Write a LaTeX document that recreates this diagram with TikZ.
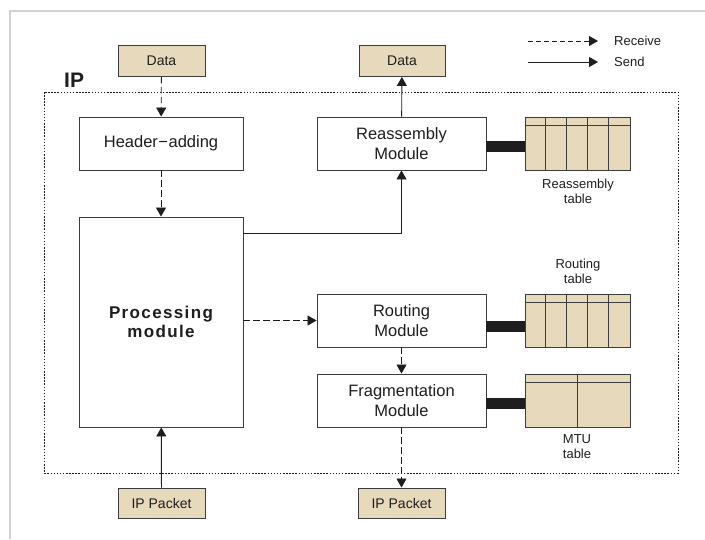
\documentclass[tikz,border=0pt]{standalone}
\usepackage{fontspec}
\setmainfont{Liberation Sans}
\newfontfamily\procfont[LetterSpace=8]{Liberation Sans}
\usetikzlibrary{arrows.meta}
\definecolor{beige}{RGB}{231,217,188}
\definecolor{edge}{RGB}{60,60,60}
\definecolor{ink}{RGB}{30,30,30}
\tikzset{
  iobox/.style={draw=edge, line width=0.9pt, fill=beige, minimum width=87pt, minimum height=31pt, inner sep=0pt, font=\fontsize{14}{16}\selectfont, text=ink},
  modbox/.style={draw=edge, line width=0.9pt, fill=white, minimum width=169pt, minimum height=53pt, inner sep=0pt, align=center, font=\fontsize{16.5}{20}\selectfont, text=ink},
  tabbox/.style={draw=edge, line width=0.9pt, fill=beige, minimum width=105pt, minimum height=53pt, inner sep=0pt},
  tabline/.style={draw=edge, line width=0.9pt},
  lbl/.style={align=center, font=\fontsize{13}{15}\selectfont, text=ink, inner sep=0pt},
  tip/.style={-{Triangle[length=9pt,width=10pt]}},
  recv/.style={tip, draw=ink, line width=0.8pt, dash pattern=on 6.5pt off 3.5pt},
  sendl/.style={tip, draw=ink, line width=0.9pt},
  bar/.style={draw=ink, line width=11pt},
}
\begin{document}
\begin{tikzpicture}[x=1pt,y=-1pt]
\useasboundingbox (0,0) rectangle (705,539);
% outer grey frame
\draw[line width=2.5pt, draw=black!18] (10,539) -- (10,11) -- (705,11);
% IP dotted box
\draw[draw=ink, line width=0.8pt, dash pattern=on 1.5pt off 1.6pt] (44,92) rectangle (678,473);
\node[anchor=base west, inner sep=0pt, font=\fontsize{21}{21}\selectfont\bfseries, text=ink] (iplbl) at (64,87) {IP};
% io boxes
\node[iobox] (data1) at (161.5,61) {Data};
\node[iobox, minimum width=86pt] (data2) at (402,61) {Data};
\node[iobox, minimum height=30pt] (ipp1) at (161.5,503) {IP Packet};
\node[iobox, minimum height=30pt] (ipp2) at (401.5,503) {IP Packet};
% modules
\node[modbox, minimum width=164pt] (head) at (161,143.5) {Header{\raisebox{0.5pt}{\kern0.5pt−\kern0.5pt}}adding};
\node[modbox, minimum width=164pt, minimum height=210pt] (proc) at (161,322) {\procfont\bfseries\fontsize{17}{20}\selectfont Processing\\[-1pt]\procfont\bfseries\fontsize{17}{20}\selectfont module};
\node[modbox] (reas) at (401.5,143.5) {Reassembly\\Module};
\node[modbox] (rout) at (401.5,320.5) {Routing\\Module};
\node[modbox] (frag) at (401.5,400.5) {Fragmentation\\Module};
% tables
\node[tabbox] (rtab) at (577.5,143.5) {};
\node[tabbox] (ttab) at (577.5,320.5) {};
\node[tabbox] (mtab) at (577.5,400.5) {};
\foreach \t in {rtab,ttab}{
  \draw[tabline] ([yshift=-9pt]\t.north west) -- ([yshift=-9pt]\t.north east);
  \foreach \k in {1,2,3,4}{
    \draw[tabline] ([xshift=\k*21pt]\t.north west) -- ([xshift=\k*21pt]\t.south west);
  }
}
\draw[tabline] ([yshift=-9pt]mtab.north west) -- ([yshift=-9pt]mtab.north east);
\draw[tabline] (mtab.north) -- (mtab.south);
% table labels
\node[lbl] (rlab) at (578,191) {Reassembly\\table};
\node[lbl] (tlab) at (578,271) {Routing\\table};
\node[lbl] (mlab) at (577,447) {MTU\\table};
% thick links
\draw[bar] ([yshift=-3pt]reas.east) -- ([yshift=-3pt]rtab.west);
\draw[bar] ([yshift=-5.5pt]rout.east) -- ([yshift=-5.5pt]ttab.west);
\draw[bar] ([yshift=-3pt]frag.east) -- ([yshift=-3pt]mtab.west);
% connectors
\draw[recv] (data1) -- (head);
\draw[recv] (head) -- (proc);
\draw[sendl] ([yshift=-17pt]proc.north east) -| (reas.south);
\draw[sendl] (reas) -- (data2);
\draw[recv] (proc.east |- rout) -- (rout.west);
\draw[recv] (rout) -- (frag);
\draw[recv] (frag) -- (ipp2);
\draw[sendl] (ipp1) -- (proc);
% legend
\coordinate (lra) at (528,41);
\coordinate (lrb) at (598,41);
\coordinate (lsa) at (528,62);
\coordinate (lsb) at (598,62);
\draw[recv, dash pattern=on 5pt off 3pt] (lra) -- (lrb);
\draw[sendl] (lsa) -- (lsb);
\node[lbl, anchor=west] (lrt) at (614,41) {Receive};
\node[lbl, anchor=west] (lst) at (614,62) {Send};
\end{tikzpicture}
\end{document}
